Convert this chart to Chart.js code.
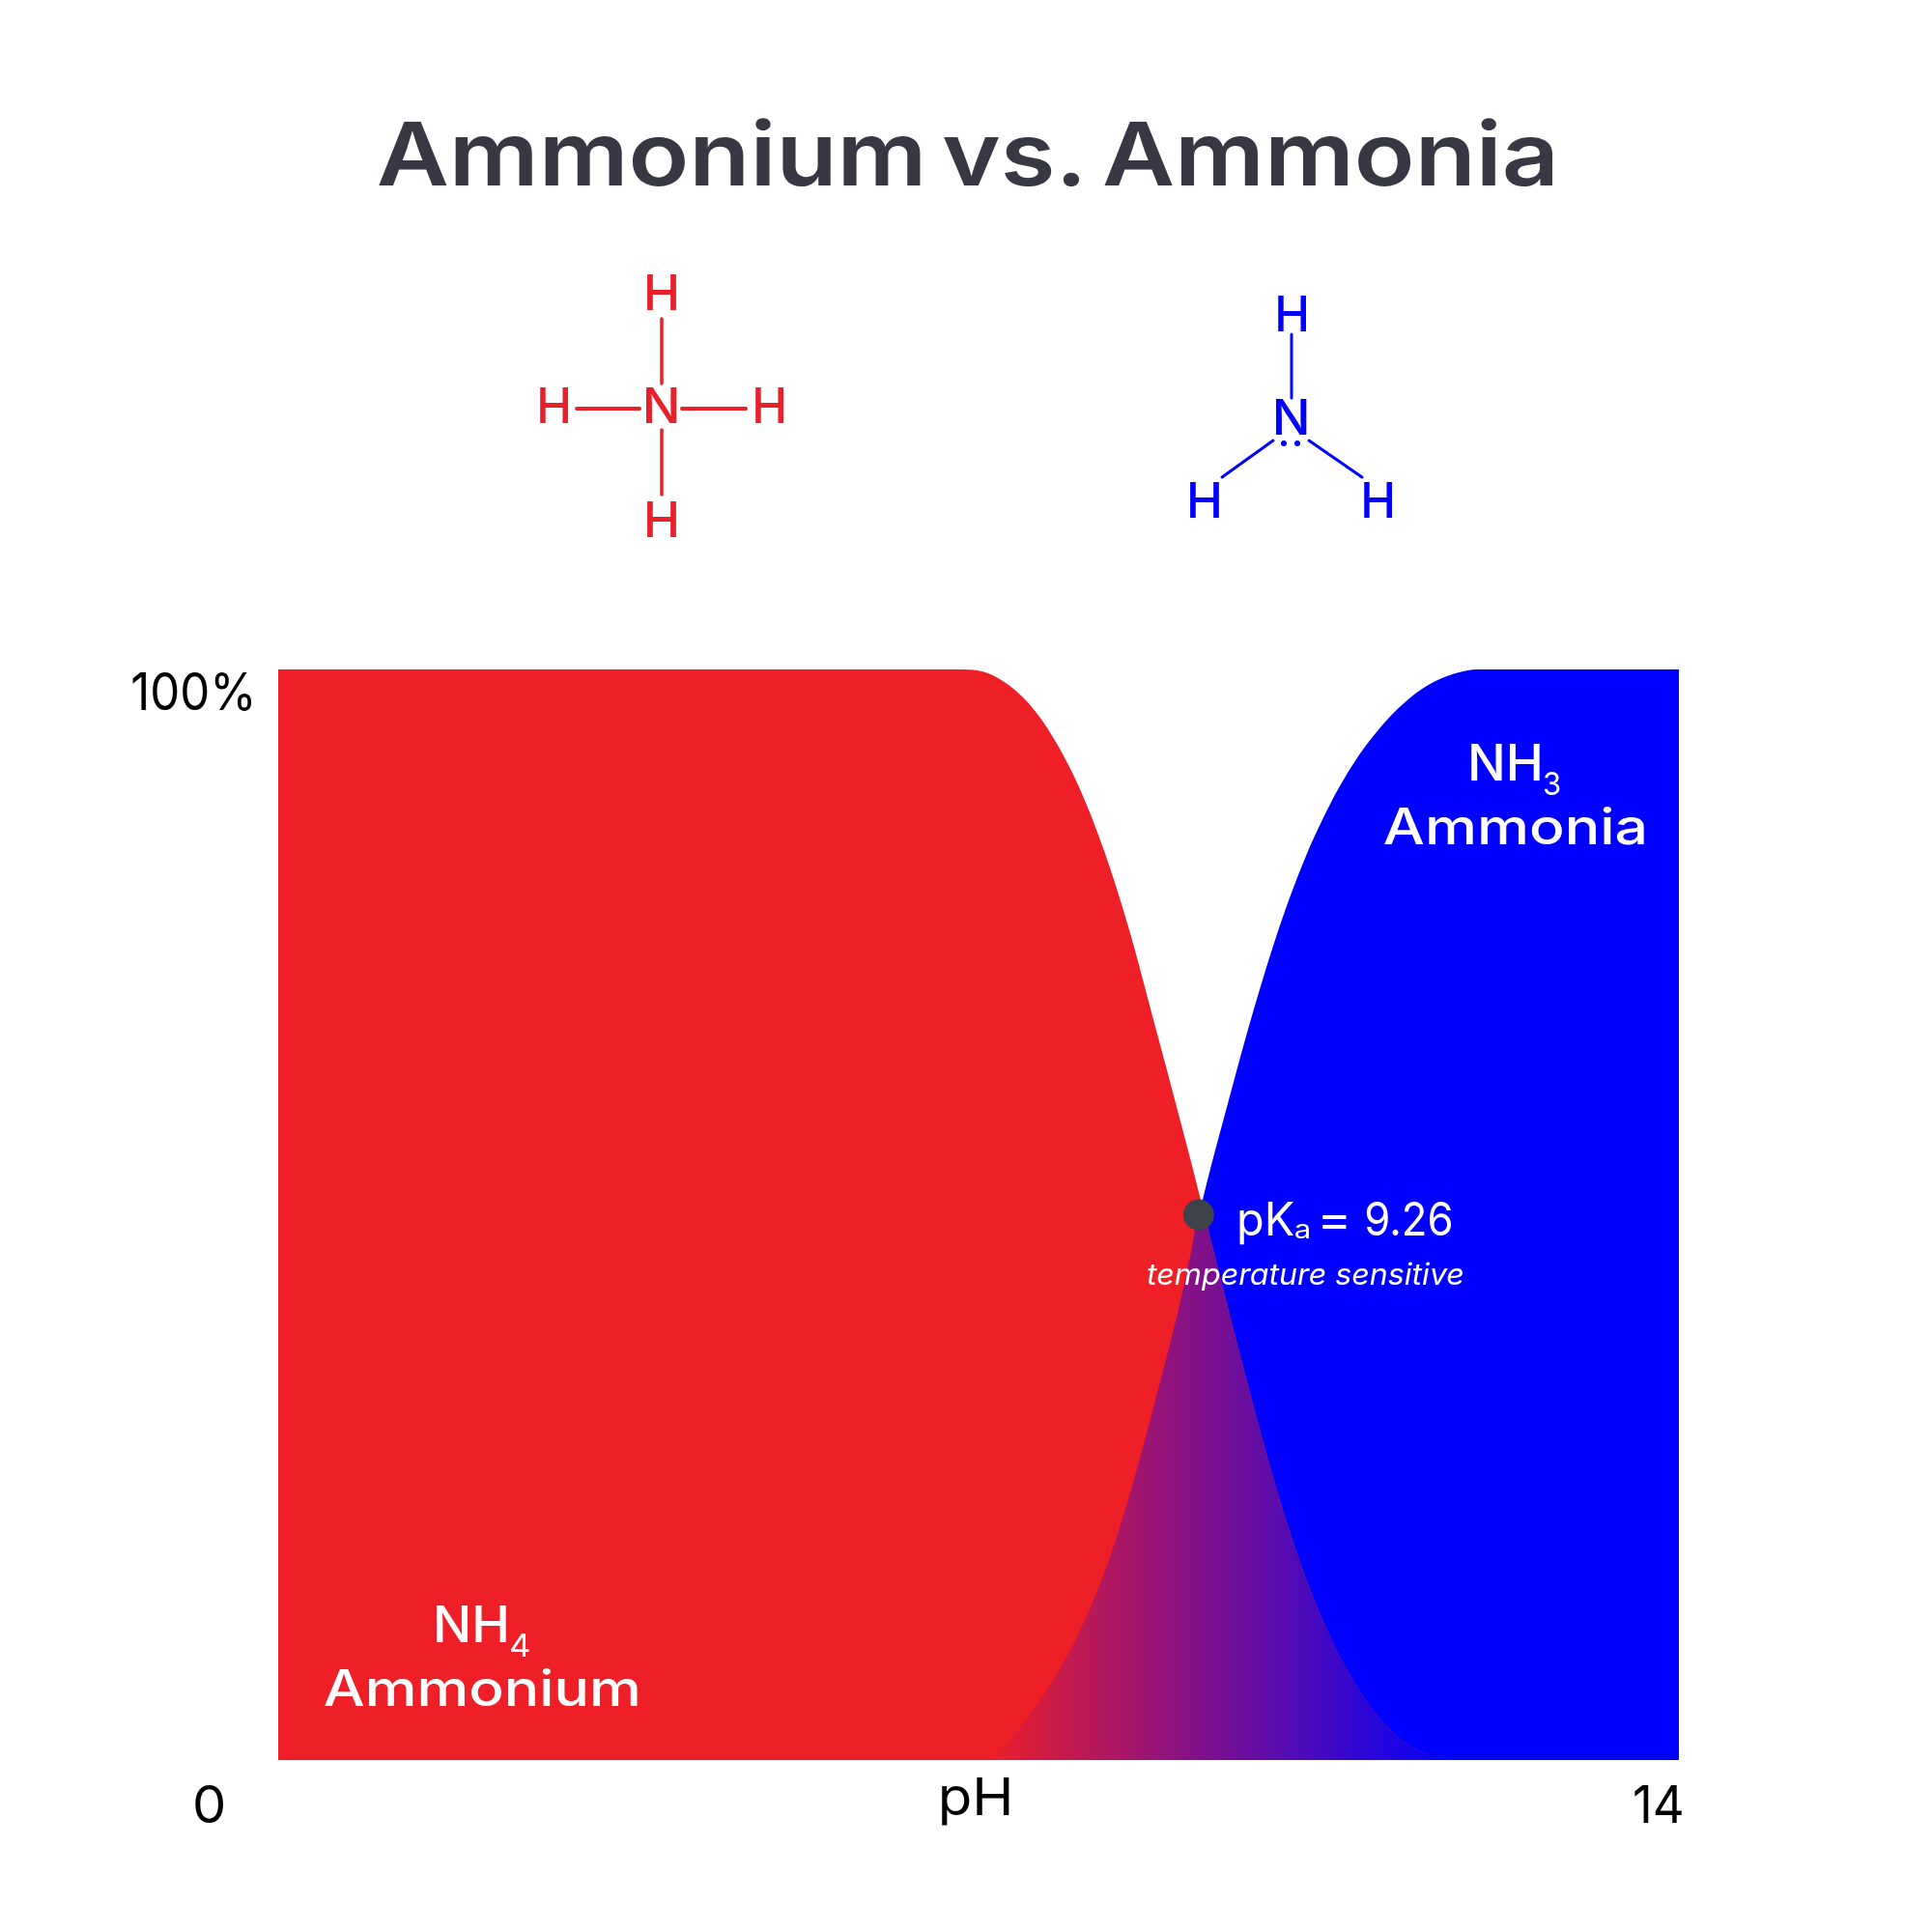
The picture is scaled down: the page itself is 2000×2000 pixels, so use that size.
<!DOCTYPE html>
<html>
<head>
<meta charset="utf-8">
<title>Ammonium vs. Ammonia</title>
<script src="https://cdn.jsdelivr.net/npm/chart.js@4"></script>
<style>html,body{margin:0;padding:0;background:#fff}canvas{display:block}</style>
</head>
<body>
<canvas id="c" width="2000" height="2000"></canvas>
<script>
const titleText = "Ammonium vs. Ammonia";
const tickLabelsX = ["0", "pH", "14"];
const tickLabelsY = ["100%"];
const ammoniumPH = [0, 6.8, 7.0, 7.25, 7.5, 7.75, 8.0, 8.25, 8.5, 8.75, 9.0, 9.12, 9.23, 9.34, 9.5, 9.75, 10.0, 10.25, 10.5, 10.75, 11.0, 11.25, 11.5, 11.75, 14];
const ammoniumPct = [100, 100, 99.9, 98.9, 96.9, 93.7, 89.3, 83.5, 76.3, 67.8, 59.2, 55.0, 51.0, 47.0, 41.2, 32.4, 24.2, 17.2, 11.6, 7.2, 3.9, 1.7, 0.5, 0, 0];
const ammoniaPH = [7.05, 7.15, 7.25, 7.5, 7.75, 8.0, 8.25, 8.5, 8.75, 9.0, 9.12, 9.23, 9.5, 9.75, 10.0, 10.25, 10.5, 10.75, 11.0, 11.25, 11.5, 11.75, 12.0, 14];
const ammoniaPct = [0, 0.4, 1.2, 4.0, 7.4, 11.6, 17.0, 24.0, 32.4, 41.4, 46.4, 51.0, 60.5, 68.8, 76.2, 82.4, 87.4, 91.4, 94.5, 96.9, 98.6, 99.6, 100, 100];
const pKaPH = [9.2];
const pKaPct = [50];
const crossingPH = 9.23;
const overlapEndPH = 11.75;

const RED = "#ef1f27", BLUE = "#0000ff", DARK = "#373843";
const pts = (xs, ys) => xs.map((x, i) => ({x, y: ys[i]}));
const overlapPts = pts(ammoniaPH, ammoniaPct).filter(p => p.x <= crossingPH)
  .concat(pts(ammoniumPH, ammoniumPct).filter(p => p.x > crossingPH && p.x <= overlapEndPH));

function fit(ctx, text, x0, x1, base, font, color, wordGap) {
  ctx.save();
  ctx.font = font;
  ctx.fillStyle = color;
  ctx.textAlign = "left";
  ctx.textBaseline = "alphabetic";
  if (wordGap) ctx.wordSpacing = wordGap + "px";
  const m = ctx.measureText(text);
  const ink = m.actualBoundingBoxRight + m.actualBoundingBoxLeft;
  const sx = (x1 - x0) / ink;
  ctx.translate(x0, base);
  ctx.scale(sx, 1);
  ctx.fillText(text, m.actualBoundingBoxLeft, 0);
  ctx.restore();
}
function seg(ctx, x0, y0, x1, y1, w, color) {
  ctx.beginPath();
  ctx.moveTo(x0, y0);
  ctx.lineTo(x1, y1);
  ctx.lineWidth = w;
  ctx.strokeStyle = color;
  ctx.lineCap = "round";
  ctx.stroke();
}
const annotate = {
  id: "annotate",
  afterDraw(chart) {
    const c = chart.ctx;
    c.save();
    const F = "Inter, 'Noto Sans', sans-serif";
    fit(c, titleText, 392, 1608, 192, "600 91px " + F, DARK, -9);

    const st = "500 51px " + F;
    const RC = "#e8202a";
    fit(c, "H", 670, 700, 321, st, RC);
    fit(c, "H", 559, 588, 438, st, RC);
    fit(c, "N", 669, 701, 438, st, RC);
    fit(c, "H", 782, 811, 438, st, RC);
    fit(c, "H", 670, 700, 556, st, RC);
    seg(c, 685, 330, 685, 397, 3.5, RC);
    seg(c, 685, 445, 685, 512, 3.5, RC);
    seg(c, 597, 423, 662, 423, 4, RC);
    seg(c, 706, 423, 772, 423, 4, RC);

    fit(c, "H", 1323, 1352, 343, st, BLUE);
    fit(c, "N", 1321, 1353, 450, st, BLUE);
    fit(c, "H", 1232, 1262, 536, st, BLUE);
    fit(c, "H", 1412, 1441, 536, st, BLUE);
    seg(c, 1337, 346, 1337, 412, 3, BLUE);
    seg(c, 1318, 456, 1265, 494, 3, BLUE);
    seg(c, 1355, 456, 1410, 494, 3, BLUE);
    c.fillStyle = BLUE;
    [1329, 1343].forEach(x => { c.beginPath(); c.arc(x, 459, 3, 0, 2 * Math.PI); c.fill(); });

    const tick = "400 54px " + F;
    fit(c, tickLabelsY[0], 137, 260, 735, tick, "#000");
    fit(c, tickLabelsX[0], 202, 231, 1887, tick, "#000");
    fit(c, tickLabelsX[1], 975, 1045, 1879, tick, "#000");
    fit(c, tickLabelsX[2], 1692, 1741, 1887, tick, "#000");

    const lab = "500 52px " + F, sub = "400 33px " + F, W = "#ffffff";
    fit(c, "NH", 452, 524, 1700, lab, W);
    fit(c, "4", 528, 548, 1715, sub, W);
    fit(c, "Ammonium", 336, 660, 1766, lab, W);
    fit(c, "NH", 1523, 1594, 808, lab, W);
    fit(c, "3", 1599, 1615, 823, sub, W);
    fit(c, "Ammonia", 1433, 1702, 874, lab, W);

    fit(c, "pK", 1283, 1339, 1279, "400 48px " + F, W);
    fit(c, "a", 1341, 1356, 1282, "400 27px " + F, W);
    fit(c, "=", 1369, 1394, 1279, "400 48px " + F, W);
    fit(c, "9.26", 1414, 1502, 1279, "400 48px " + F, W);
    fit(c, "temperature sensitive", 1188, 1515, 1330, "italic 400 31px " + F, W);
    c.restore();
  }
};

new Chart(document.getElementById("c"), {
  type: "line",
  data: {
    datasets: [
      { label: "pKa", data: pts(pKaPH, pKaPct), order: 0, showLine: false,
        pointRadius: 16, pointBackgroundColor: "#3f4249", pointBorderWidth: 0 },
      { label: "Overlap", data: overlapPts, order: 1, fill: "origin", borderWidth: 0, pointRadius: 0,
        cubicInterpolationMode: "monotone",
        backgroundColor(ctx) {
          const ch = ctx.chart;
          if (!ch.chartArea) return "#7f0f85";
          const sx = ch.scales.x;
          const g = ch.ctx.createLinearGradient(sx.getPixelForValue(7.05), 0, sx.getPixelForValue(overlapEndPH), 0);
          g.addColorStop(0, RED);
          g.addColorStop(1, BLUE);
          return g;
        } },
      { label: "NH4 Ammonium", data: pts(ammoniumPH, ammoniumPct), order: 2, fill: "origin", borderWidth: 0,
        pointRadius: 0, cubicInterpolationMode: "monotone", backgroundColor: RED },
      { label: "NH3 Ammonia", data: pts(ammoniaPH, ammoniaPct), order: 3, fill: "origin", borderWidth: 0,
        pointRadius: 0, cubicInterpolationMode: "monotone", backgroundColor: BLUE }
    ]
  },
  options: {
    responsive: false,
    animation: false,
    devicePixelRatio: 1,
    layout: { padding: { left: 288, right: 262, top: 693, bottom: 178 } },
    plugins: { legend: { display: false }, tooltip: { enabled: false }, title: { display: false, text: titleText } },
    scales: {
      x: { type: "linear", min: 0, max: 14, display: false },
      y: { type: "linear", min: 0, max: 100, display: false }
    }
  },
  plugins: [annotate]
});
</script>
</body>
</html>
